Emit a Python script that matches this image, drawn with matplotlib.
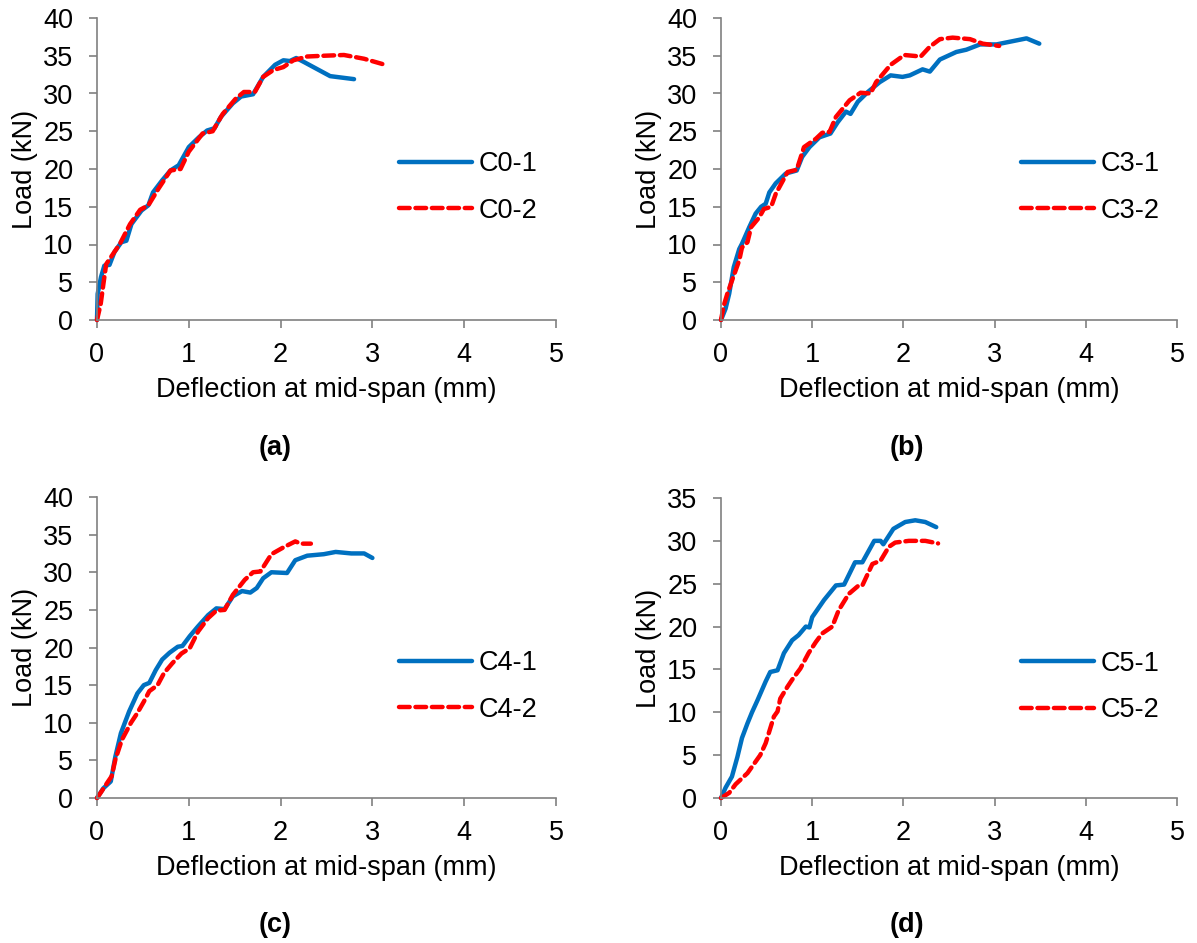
import matplotlib
matplotlib.use("Agg")
import matplotlib.pyplot as plt

plt.rcParams['font.family'] = ['Liberation Sans', 'DejaVu Sans']

# ---- data (deflection mm, load kN) ----
c01_x = [0, 0.007, 0.044, 0.08, 0.136, 0.19, 0.265, 0.32, 0.375, 0.485, 0.56, 0.61, 0.71, 0.8, 0.89, 1.0, 1.11, 1.2, 1.28, 1.35, 1.48, 1.57, 1.7, 1.81, 1.94, 2.03, 2.1, 2.17, 2.25, 2.54, 2.8]
c01_y = [0, 3.45, 5.7, 7.2, 7.3, 9.0, 10.3, 10.5, 12.7, 14.5, 15.2, 16.9, 18.5, 19.8, 20.5, 22.9, 24.2, 25.1, 25.4, 26.9, 28.7, 29.6, 29.9, 32.2, 33.8, 34.4, 34.3, 34.7, 34.2, 32.3, 31.9]
c02_x = [0, 0.04, 0.07, 0.1, 0.15, 0.25, 0.36, 0.47, 0.56, 0.67, 0.8, 0.91, 1.0, 1.15, 1.26, 1.37, 1.51, 1.6, 1.72, 1.81, 1.92, 2.03, 2.14, 2.29, 2.47, 2.69, 2.91, 3.11]
c02_y = [0, 2.1, 4.8, 7.4, 8.3, 10.1, 12.7, 14.6, 15.2, 17.4, 19.8, 20.0, 22.3, 24.7, 25.0, 27.3, 29.3, 30.2, 30.2, 32.2, 33.1, 33.5, 34.4, 34.9, 35.0, 35.1, 34.6, 33.9]

c31_x = [0, 0.05, 0.09, 0.14, 0.2, 0.23, 0.31, 0.38, 0.44, 0.49, 0.53, 0.6, 0.71, 0.83, 0.89, 0.97, 1.08, 1.2, 1.28, 1.37, 1.42, 1.5, 1.61, 1.74, 1.86, 1.99, 2.07, 2.21, 2.29, 2.4, 2.58, 2.69, 2.84, 3.02, 3.35, 3.49]
c31_y = [0, 1.5, 3.5, 7.0, 9.4, 10.1, 12.3, 14.1, 15.0, 15.4, 16.9, 18.1, 19.4, 19.8, 21.6, 22.9, 24.2, 24.7, 26.2, 27.6, 27.3, 28.9, 30.2, 31.5, 32.4, 32.2, 32.4, 33.2, 32.9, 34.5, 35.5, 35.8, 36.5, 36.5, 37.3, 36.6]
c32_x = [0, 0.03, 0.07, 0.12, 0.2, 0.23, 0.29, 0.33, 0.42, 0.47, 0.55, 0.6, 0.73, 0.83, 0.91, 1.04, 1.11, 1.19, 1.26, 1.41, 1.53, 1.64, 1.7, 1.86, 2.01, 2.19, 2.29, 2.4, 2.54, 2.73, 2.87, 3.05]
c32_y = [0, 1.9, 3.5, 5.2, 7.9, 9.6, 10.3, 12.3, 13.6, 14.7, 15.0, 16.7, 19.6, 19.9, 22.9, 24.0, 24.8, 24.9, 26.9, 29.1, 30.1, 30.0, 31.5, 33.8, 35.1, 34.9, 36.2, 37.2, 37.4, 37.2, 36.6, 36.3]

c41_x = [0, 0.07, 0.15, 0.2, 0.26, 0.35, 0.44, 0.51, 0.57, 0.64, 0.71, 0.79, 0.88, 0.93, 1.01, 1.1, 1.21, 1.3, 1.39, 1.48, 1.58, 1.67, 1.74, 1.81, 1.9, 2.07, 2.16, 2.29, 2.47, 2.6, 2.77, 2.91, 3.0]
c41_y = [0, 1.3, 2.2, 5.5, 8.6, 11.5, 13.9, 15.0, 15.3, 17.0, 18.4, 19.3, 20.1, 20.2, 21.5, 22.8, 24.3, 25.2, 25.1, 26.8, 27.5, 27.3, 27.9, 29.2, 30.0, 29.9, 31.6, 32.2, 32.4, 32.7, 32.5, 32.5, 31.9]
c42_x = [0, 0.04, 0.11, 0.16, 0.2, 0.27, 0.37, 0.44, 0.51, 0.57, 0.66, 0.73, 0.82, 0.92, 1.01, 1.1, 1.21, 1.3, 1.39, 1.48, 1.61, 1.7, 1.78, 1.9, 2.03, 2.16, 2.22, 2.33]
c42_y = [0, 0.7, 2.0, 2.9, 5.1, 7.7, 10.0, 11.3, 12.8, 14.2, 15.0, 16.6, 17.9, 19.2, 19.9, 22.1, 23.9, 24.9, 25.0, 27.0, 29.0, 30.0, 30.1, 32.4, 33.3, 34.1, 33.8, 33.8]

c51_x = [0, 0.05, 0.12, 0.18, 0.23, 0.29, 0.34, 0.4, 0.49, 0.54, 0.62, 0.69, 0.78, 0.85, 0.93, 0.97, 1.0, 1.13, 1.26, 1.35, 1.47, 1.55, 1.68, 1.75, 1.78, 1.89, 2.02, 2.13, 2.24, 2.36]
c51_y = [0, 1.2, 2.5, 4.8, 7.0, 8.7, 10.0, 11.4, 13.6, 14.7, 14.9, 16.9, 18.4, 19.0, 20.0, 19.9, 21.1, 23.1, 24.8, 24.9, 27.5, 27.5, 30.0, 30.0, 29.6, 31.4, 32.2, 32.4, 32.2, 31.6]
c52_x = [0, 0.09, 0.16, 0.29, 0.43, 0.49, 0.58, 0.62, 0.65, 0.73, 0.78, 0.87, 0.96, 1.04, 1.11, 1.22, 1.29, 1.4, 1.51, 1.55, 1.66, 1.75, 1.84, 1.91, 2.06, 2.24, 2.38]
c52_y = [0, 0.6, 1.6, 2.9, 5.0, 6.4, 9.5, 10.1, 11.6, 13.0, 13.8, 15.1, 16.9, 18.2, 19.2, 20.0, 21.9, 23.8, 24.8, 24.8, 27.3, 27.7, 29.3, 29.8, 30.0, 30.0, 29.7]

panel_tags = ['(a)', '(b)', '(c)', '(d)']
series_names = [('C0-1', 'C0-2'), ('C3-1', 'C3-2'), ('C4-1', 'C4-2'), ('C5-1', 'C5-2')]
series_data = [((c01_x, c01_y), (c02_x, c02_y)),
               ((c31_x, c31_y), (c32_x, c32_y)),
               ((c41_x, c41_y), (c42_x, c42_y)),
               ((c51_x, c51_y), (c52_x, c52_y))]
y_max = [40, 40, 40, 35]

W, H = 1197, 943
fig = plt.figure(figsize=(W / 100, H / 100), dpi=100)

# pixel boxes: (left, top, right, bottom)
boxes = [(97, 18, 556, 320), (721, 18, 1177, 320), (97, 497, 556, 798), (721, 498, 1177, 798)]
legend_y = [0.439, 0.439, 0.37, 0.37]
tag_pos = [(275, 448), (907, 448), (275, 925), (907, 925)]

axis_col = '#808080'
FS = 19.5
for i in range(4):
    l, t, r, b = boxes[i]
    ax = fig.add_axes([l / W, 1 - b / H, (r - l) / W, (b - t) / H])
    (x1, y1), (x2, y2) = series_data[i]
    n1, n2 = series_names[i]
    ax.plot(x1, y1, color='#0070C0', lw=3.2, label=n1, solid_capstyle='round', solid_joinstyle='round')
    ax.plot(x2, y2, color='#FF0000', lw=3.2, ls=(0, (2.4, 1.3)), label=n2, dash_capstyle='round')
    ax.set_xlim(0, 5)
    ax.set_ylim(0, y_max[i])
    ax.set_xticks(range(0, 6))
    ax.set_yticks(range(0, y_max[i] + 1, 5))
    for s in ['top', 'right']:
        ax.spines[s].set_visible(False)
    for s in ['left', 'bottom']:
        ax.spines[s].set_color(axis_col)
        ax.spines[s].set_linewidth(1.2)
    ax.tick_params(axis='both', direction='out', length=6, width=1.2, color=axis_col,
                   labelsize=FS, labelcolor='black')
    ax.tick_params(axis='y', pad=11)
    ax.tick_params(axis='x', pad=10)
    ax.set_xlabel('Deflection at mid-span (mm)', fontsize=FS, labelpad=6)
    ax.set_ylabel('Load (kN)', fontsize=FS, labelpad=4)
    for ln in ax.lines:
        ln.set_clip_on(False)
    ax.legend(loc='center left', bbox_to_anchor=(0.658, legend_y[i]), frameon=False,
              fontsize=FS, handlelength=2.7, handletextpad=0.25, labelspacing=0.75,
              borderpad=0, borderaxespad=0)
    fig.text(tag_pos[i][0] / W, 1 - tag_pos[i][1] / H, panel_tags[i], fontsize=FS,
             fontweight='bold', ha='center', va='center')

fig.savefig('out.png', dpi=100, facecolor='white')
